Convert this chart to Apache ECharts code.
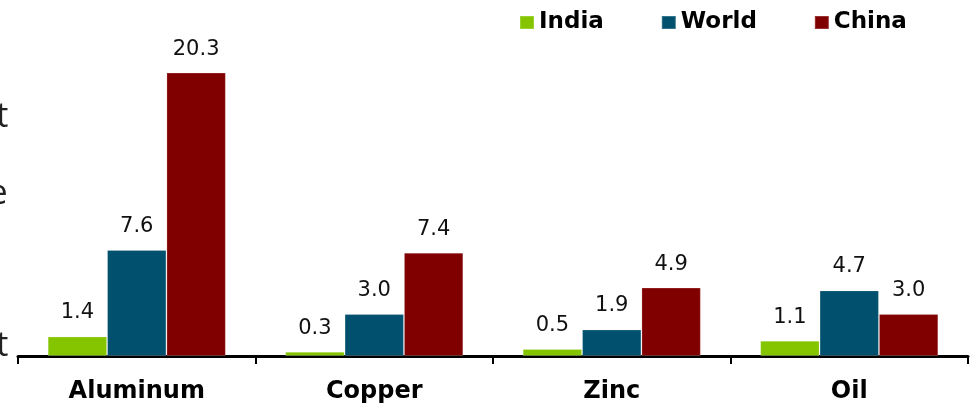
<!DOCTYPE html>
<html>
<head>
<meta charset="utf-8">
<script src="https://cdn.jsdelivr.net/npm/echarts@6/dist/echarts.min.js"></script>
<style>
  html, body { margin: 0; padding: 0; background: #fff; }
  #chart { width: 972px; height: 404px; }
</style>
</head>
<body>
<div id="chart"></div>
<script>
// Metal and oil figures by region
const categories = ['Aluminum', 'Copper', 'Zinc', 'Oil'];
const india = [1.4, 0.3, 0.5, 1.1];
const world = [7.6, 3.0, 1.9, 4.7];
const china = [20.3, 7.4, 4.9, 3.0];

const seriesNames = ['India', 'World', 'China'];
const seriesColors = ['#84C500', '#00506E', '#800000'];

const chart = echarts.init(document.getElementById('chart'));

function bar(name, data, color) {
  return {
    name: name,
    type: 'bar',
    data: data,
    barGap: '0%',
    barCategoryGap: '25%',
    itemStyle: { color: color, borderColor: 'rgba(255,255,255,0.2)', borderWidth: 1 },
    label: {
      show: true,
      position: 'top',
      distance: 13,
      color: '#111',
      fontFamily: 'DejaVu Sans',
      fontSize: 21,
      formatter: p => p.value.toFixed(1)
    }
  };
}

chart.setOption({
  animation: false,
  backgroundColor: '#fff',
  grid: { left: 18, right: 4, top: 7, bottom: 47, containLabel: false },
  legend: {
    left: 514,
    top: 6,
    itemWidth: 14,
    itemHeight: 13,
    itemGap: 57,
    icon: 'rect',
    textStyle: { fontFamily: 'DejaVu Sans', fontWeight: 'bold', fontSize: 23, color: '#000' },
    data: seriesNames
  },
  xAxis: {
    type: 'category',
    data: categories,
    axisLine: { lineStyle: { color: '#000', width: 3 } },
    axisTick: { show: true, length: 8, lineStyle: { color: '#000', width: 2 } },
    axisLabel: {
      margin: 24,
      color: '#000',
      fontFamily: 'DejaVu Sans',
      fontWeight: 'bold',
      fontSize: 24
    }
  },
  yAxis: {
    type: 'value',
    min: 0,
    max: 25,
    show: false
  },
  graphic: [
    { type: 'text', left: -20, top: 100, style: { text: 'st', font: '34px "Open Sans"', fill: '#222' } },
    { type: 'text', left: -20, top: 177, style: { text: 'le', font: '34px "Open Sans"', fill: '#222' } },
    { type: 'text', left: -20, top: 329, style: { text: 'st', font: '34px "Open Sans"', fill: '#222' } }
  ],
  series: [
    bar(seriesNames[0], india, seriesColors[0]),
    bar(seriesNames[1], world, seriesColors[1]),
    bar(seriesNames[2], china, seriesColors[2])
  ]
});
</script>
</body>
</html>
